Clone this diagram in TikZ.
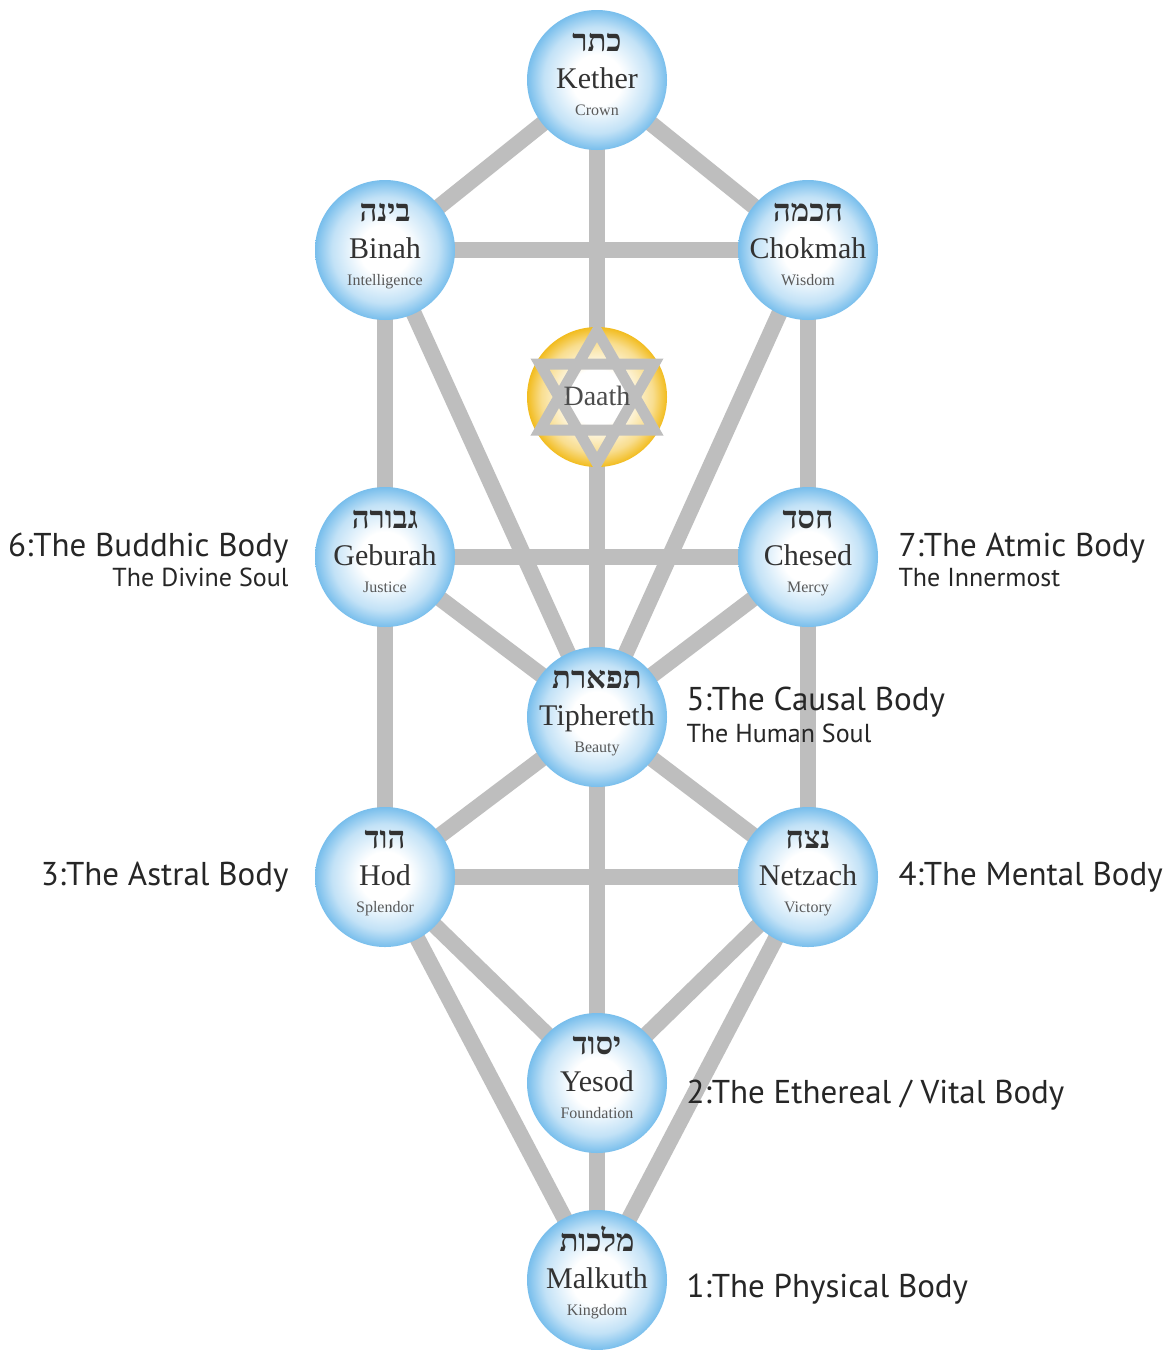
\documentclass[tikz,border=0pt]{standalone}
\usepackage{fontspec}
\setmainfont{Liberation Serif}
\setsansfont{PT Sans}
\newfontfamily\hebfont[Script=Hebrew]{Liberation Serif}
\TeXXeTstate=1
\usetikzlibrary{positioning, calc, backgrounds}
\usepackage{xcolor}
\definecolor{sephblue}{RGB}{120,190,236}
\definecolor{daathgold}{RGB}{242,188,30}
\definecolor{pathgray}{RGB}{190,190,190}
\definecolor{namegray}{RGB}{50,50,50}
\pgfdeclareradialshading{sephshade}{\pgfpoint{0bp}{0bp}}{color(0bp)=(white); color(9bp)=(white); color(19bp)=(sephblue!45); color(25bp)=(sephblue); color(50bp)=(sephblue)}
\pgfdeclareradialshading{daathshade}{\pgfpoint{0bp}{0bp}}{color(0bp)=(white); color(10bp)=(white); color(20bp)=(daathgold!50); color(25bp)=(daathgold); color(50bp)=(daathgold)}
\tikzset{
  sephira/.style={circle, minimum size=140pt, inner sep=0pt, shading=sephshade},
  treepath/.style={line width=16pt, pathgray},
  hebname/.style={anchor=base, text=namegray, font=\hebfont\bfseries\fontsize{31}{31}\selectfont},
  sephname/.style={anchor=base, text=namegray, font=\fontsize{30}{30}\selectfont},
  sephsub/.style={anchor=base, text=black!65, font=\fontsize{16}{16}\selectfont},
  bodytitle/.style={text=black!85, font=\sffamily\fontsize{33}{33}\selectfont},
  bodysub/.style={text=black!85, font=\sffamily\fontsize{26}{26}\selectfont}
}

\begin{document}
\begin{tikzpicture}[x=1pt, y=-1pt]
  \useasboundingbox (0,0) rectangle (1165,1350);

  \foreach \nm/\x/\y/\heb/\title/\sub in {
      kether/597/80/כתר/Kether/Crown,
      binah/385/250/בינה/Binah/Intelligence,
      chokmah/808/250/חכמה/Chokmah/Wisdom,
      geburah/385/557/גבורה/Geburah/Justice,
      chesed/808/557/חסד/Chesed/Mercy,
      tiphereth/597/717/תפארת/Tiphereth/Beauty,
      hod/385/877/הוד/Hod/Splendor,
      netzach/808/877/נצח/Netzach/Victory,
      yesod/597/1083/יסוד/Yesod/Foundation,
      malkuth/597/1280/מלכות/Malkuth/Kingdom} {
    \node[sephira] (\nm) at (\x,\y) {};
    \node[hebname] at ($(\nm)+(0,-29)$) {\beginR\heb\endR};
    \node[sephname] at ($(\nm)+(0,8)$) {\title};
    \node[sephsub] at ($(\nm)+(0,35)$) {\sub};
  }

  % Daath with the star
  \node[sephira, shading=daathshade] (daath) at (597,397) {};
  \draw[pathgray, line width=11pt, line join=miter]
    ($(daath)+(0,-66)$) -- ($(daath)+(57,33)$) -- ($(daath)+(-57,33)$) -- cycle
    ($(daath)+(0,66)$) -- ($(daath)+(57,-33)$) -- ($(daath)+(-57,-33)$) -- cycle;
  \node[sephname, text=black!70, font=\fontsize{28}{28}\selectfont] at ($(daath)+(0,8)$) {Daath};

  \begin{scope}[on background layer]
    \fill[white] (0,0) rectangle (1165,1350);
    \foreach \a/\b in {kether/binah, kether/chokmah, kether/daath, daath/tiphereth,
        binah/chokmah, binah/geburah, chokmah/chesed, binah/tiphereth, chokmah/tiphereth,
        geburah/chesed, geburah/tiphereth, chesed/tiphereth, geburah/hod, chesed/netzach,
        hod/tiphereth, netzach/tiphereth, hod/netzach, tiphereth/yesod,
        hod/yesod, netzach/yesod, hod/malkuth, netzach/malkuth, yesod/malkuth}
      \draw[treepath] (\a.center) -- (\b.center);
  \end{scope}

  % bodies
  \node[bodytitle, anchor=base east] (buddhic) at (292,556) {6:The Buddhic Body};
  \node[bodysub, anchor=base east] (divine) at (292,586) {The Divine Soul};
  \node[bodytitle, anchor=base west] (atmic) at (895,556) {7:The Atmic Body};
  \node[bodysub, anchor=base west] (innermost) at (895,586) {The Innermost};
  \node[bodytitle, anchor=base west] (causal) at (683,710) {5:The Causal Body};
  \node[bodysub, anchor=base west] (human) at (683,742) {The Human Soul};
  \node[bodytitle, anchor=base east] (astral) at (292,885) {3:The Astral Body};
  \node[bodytitle, anchor=base west] (mental) at (895,885) {4:The Mental Body};
  \node[bodytitle, anchor=base west] (ethereal) at (683,1103) {2:The Ethereal / Vital Body};
  \node[bodytitle, anchor=base west] (physical) at (683,1297) {1:The Physical Body};
\end{tikzpicture}
\end{document}
